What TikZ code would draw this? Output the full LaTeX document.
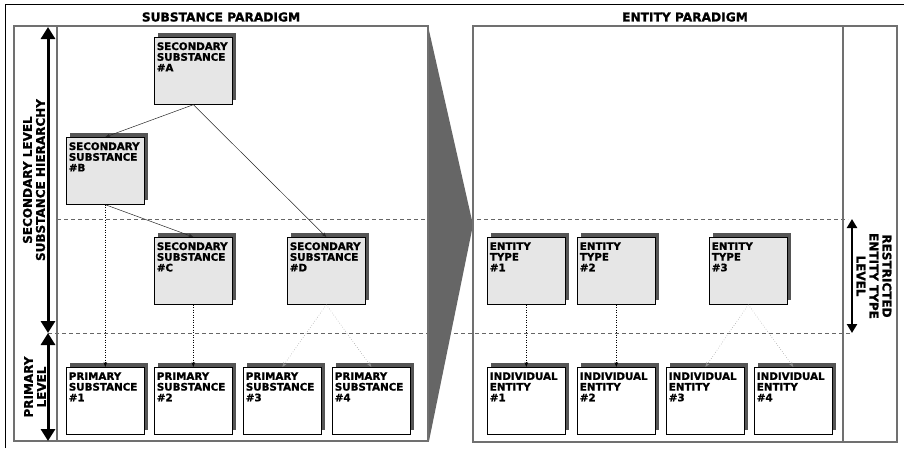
\documentclass[tikz,border=0pt]{standalone}
\usepackage{fontspec}
\setmainfont{DejaVu Sans}[BoldFeatures={FakeBold=1.2}]
\usetikzlibrary{arrows.meta,shadows}
\definecolor{panelgray}{HTML}{707070}
\definecolor{wedgegray}{HTML}{666666}
\definecolor{shadegray}{HTML}{555555}
\definecolor{boxgray}{HTML}{E6E6E6}
\newcommand\boxlabel[1]{\parbox[t][57pt][t]{73pt}{\raggedright #1}}
\begin{document}
\begin{tikzpicture}[x=1pt,y=-1pt,
  card/.style={draw=black, line width=0.7pt, anchor=north west,
    inner xsep=2.5pt, inner ysep=5pt,
    font=\fontsize{10.3}{10.7}\selectfont\bfseries,
    general shadow={fill=shadegray, shadow xshift=4pt, shadow yshift=4pt}},
  upper/.style={card, fill=boxgray},
  lower/.style={card, fill=white},
  link/.style={draw=black!85, line width=0.5pt, -{Stealth[length=5pt,width=3.5pt]}},
  dotlink/.style={link, dotted, draw=black},
  greylink/.style={link, dotted, draw=black!45},
  panel/.style={draw=panelgray, line width=1.1pt},
  levelsep/.style={draw=wedgegray, line width=0.8pt, dash pattern=on 4pt off 3pt},
  bigarrow/.style={line width=3pt, {Triangle[width=14pt,length=12pt]}-{Triangle[width=14pt,length=12pt]}},
  smallarrow/.style={line width=2.5pt, {Triangle[width=10pt,length=9pt]}-{Triangle[width=10pt,length=9pt]}},
  heading/.style={font=\fontsize{12.2}{13}\selectfont\bfseries},
  sidelabel/.style={align=center, font=\fontsize{12}{13}\selectfont\bfseries}]

\useasboundingbox (0,0) rectangle (904,448);

% outer frame
\draw[line width=0.9pt] (5,448) -- (5,4) -- (904,4);

% level separators
\draw[levelsep] (57,219) -- (848,219);
\draw[levelsep] (48,333) -- (850,333);

% projection wedge between the two paradigms
\fill[wedgegray] (428,26) -- (473,225) -- (429,441) -- cycle;

% panels
\draw[panel] (14,26) rectangle (428,441);
\draw[panel] (57,26) -- (57,441);
\draw[panel] (473,26) rectangle (897,442);
\draw[panel] (843,26) -- (843,442);

% headings
\node[heading] (ltitle) at (221,17) {SUBSTANCE PARADIGM};
\node[heading] (rtitle) at (685,17) {ENTITY PARADIGM};

% level arrows
\coordinate (lt) at (48,27);
\coordinate (lm) at (48,333);
\coordinate (lb) at (48,441);
\coordinate (rt) at (852,219);
\coordinate (rb) at (852,333);
\draw[bigarrow] (lt) -- (lm);
\draw[bigarrow] (lm) -- (lb);
\draw[smallarrow] (rt) -- (rb);

\node[sidelabel, rotate=90] (hier) at (34,180) {SECONDARY LEVEL\\SUBSTANCE HIERARCHY};
\node[sidelabel, rotate=90] (prim) at (35,387) {PRIMARY\\LEVEL};
\node[sidelabel, rotate=-90] (restr) at (874,276) {RESTRICTED\\ENTITY TYPE\\LEVEL};

% substance paradigm
\node[upper] (sA) at (154,37)  {\boxlabel{SECONDARY\\SUBSTANCE\\\#A}};
\node[upper] (sB) at (66,137)  {\boxlabel{SECONDARY\\SUBSTANCE\\\#B}};
\node[upper] (sC) at (154,237) {\boxlabel{SECONDARY\\SUBSTANCE\\\#C}};
\node[upper] (sD) at (287,237) {\boxlabel{SECONDARY\\SUBSTANCE\\\#D}};

\node[lower] (p1) at (66,367)  {\boxlabel{PRIMARY\\SUBSTANCE\\\#1}};
\node[lower] (p2) at (154,367) {\boxlabel{PRIMARY\\SUBSTANCE\\\#2}};
\node[lower] (p3) at (243,367) {\boxlabel{PRIMARY\\SUBSTANCE\\\#3}};
\node[lower] (p4) at (332,367) {\boxlabel{PRIMARY\\SUBSTANCE\\\#4}};

% entity paradigm
\node[upper] (e1) at (487,237) {\boxlabel{ENTITY\\TYPE\\\#1}};
\node[upper] (e2) at (577,237) {\boxlabel{ENTITY\\TYPE\\\#2}};
\node[upper] (e3) at (709,237) {\boxlabel{ENTITY\\TYPE\\\#3}};

\node[lower] (i1) at (487,367) {\boxlabel{INDIVIDUAL\\ENTITY\\\#1}};
\node[lower] (i2) at (577,367) {\boxlabel{INDIVIDUAL\\ENTITY\\\#2}};
\node[lower] (i3) at (666,367) {\boxlabel{INDIVIDUAL\\ENTITY\\\#3}};
\node[lower] (i4) at (754,367) {\boxlabel{INDIVIDUAL\\ENTITY\\\#4}};

% hierarchy links
\draw[link] (sA.south) -- (sB.north);
\draw[link] (sA.south) -- (sD.north);
\draw[link] (sB.south) -- (sC.north);

% instantiation links
\draw[dotlink] (sB.south) -- (p1.north);
\draw[dotlink] (sC.south) -- (p2.north);
\draw[greylink] (sD.south) -- (p3.north);
\draw[greylink] (sD.south) -- (p4.north);

\draw[dotlink] (e1.south) -- (i1.north);
\draw[dotlink] (e2.south) -- (i2.north);
\draw[greylink] (e3.south) -- (i3.north);
\draw[greylink] (e3.south) -- (i4.north);
\end{tikzpicture}
\end{document}
